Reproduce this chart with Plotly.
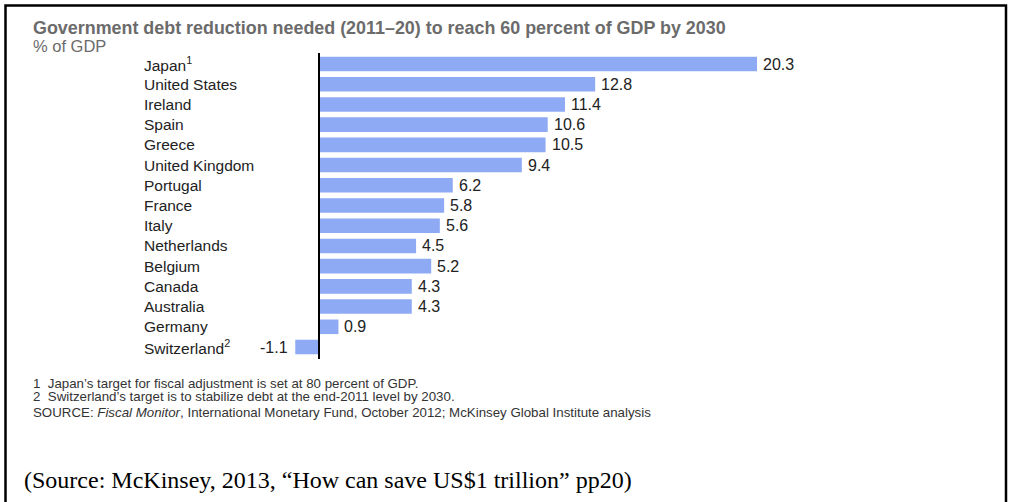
import plotly.graph_objects as go

countries = ["Japan<sup>1</sup>", "United States", "Ireland", "Spain", "Greece",
             "United Kingdom", "Portugal", "France", "Italy", "Netherlands",
             "Belgium", "Canada", "Australia", "Germany", "Switzerland<sup>2</sup>"]
values = [20.3, 12.8, 11.4, 10.6, 10.5, 9.4, 6.2, 5.8, 5.6, 4.5, 5.2, 4.3, 4.3, 0.9, -1.1]
value_labels = ["20.3", "12.8", "11.4", "10.6", "10.5", "9.4", "6.2", "5.8", "5.6",
                "4.5", "5.2", "4.3", "4.3", "0.9", "-1.1"]

title_text = "Government debt reduction needed (2011–20) to reach 60 percent of GDP by 2030"
unit_text = "% of GDP"
notes = ["1  Japan’s target for fiscal adjustment is set at 80 percent of GDP.",
         "2  Switzerland’s target is to stabilize debt at the end-2011 level by 2030."]
source_text = "SOURCE: <i>Fiscal Monitor</i>, International Monetary Fund, October 2012; McKinsey Global Institute analysis"
caption = "(Source: McKinsey, 2013, “How can save US$1 trillion” pp20)"

W, H = 1009, 502
idx = list(range(len(countries)))
FONT = "Arial, Liberation Sans, sans-serif"

fig = go.Figure()
fig.add_trace(go.Bar(
    x=values, y=idx, orientation="h",
    marker=dict(color="#8eaaf4", line=dict(width=0)),
    width=0.72, hoverinfo="skip",
))

# scale: 0 -> 319px, 20.3 -> 757px
ppu = (757 - 319) / 20.3
xmin = -319 / ppu
xmax = (W - 319) / ppu
row = (347 - 64) / 14
ytop = -64 / row
ybot = (H - 64) / row

fig.update_xaxes(range=[xmin, xmax], visible=False, fixedrange=True)
fig.update_yaxes(range=[ybot, ytop], visible=False, fixedrange=True)

ann = []
for i, (c, v, t) in enumerate(zip(countries, values, value_labels)):
    ann.append(dict(x=142 / W, xref="paper", y=i, yref="y", text=c, showarrow=False,
                    xanchor="left", yanchor="middle",
                    font=dict(family=FONT, size=15.5, color="#222")))
    ann.append(dict(x=v, xref="x", y=i, yref="y", text=t, showarrow=False,
                    xanchor="left" if v >= 0 else "right", yanchor="middle",
                    xshift=4 if v >= 0 else -5,
                    font=dict(family=FONT, size=16, color="#222")))

def py(p):
    return 1 - p / H

ann += [
    dict(x=31 / W, y=py(28), xref="paper", yref="paper", text="<b>" + title_text + "</b>",
         showarrow=False, xanchor="left", yanchor="middle",
         font=dict(family=FONT, size=17.9, color="#6b6b6b")),
    dict(x=31 / W, y=py(46), xref="paper", yref="paper", text=unit_text,
         showarrow=False, xanchor="left", yanchor="middle",
         font=dict(family=FONT, size=16.5, color="#6b6b6b")),
    dict(x=31 / W, y=py(383), xref="paper", yref="paper", text=notes[0],
         showarrow=False, xanchor="left", yanchor="middle",
         font=dict(family=FONT, size=13.3, color="#333")),
    dict(x=31 / W, y=py(396), xref="paper", yref="paper", text=notes[1],
         showarrow=False, xanchor="left", yanchor="middle",
         font=dict(family=FONT, size=13.3, color="#333")),
    dict(x=31 / W, y=py(412), xref="paper", yref="paper", text=source_text,
         showarrow=False, xanchor="left", yanchor="middle",
         font=dict(family=FONT, size=13.3, color="#333")),
    dict(x=22 / W, y=py(480), xref="paper", yref="paper", text=caption,
         showarrow=False, xanchor="left", yanchor="middle",
         font=dict(family="Liberation Serif, Times New Roman, serif", size=24, color="#000")),
]

shapes = [
    dict(type="line", xref="x", yref="paper", x0=0, x1=0, y0=py(53), y1=py(359),
         line=dict(color="#000", width=2)),
    dict(type="rect", xref="paper", yref="paper", x0=5.5 / W, x1=1006 / W, y0=py(510), y1=py(5.5),
         line=dict(color="#000", width=2.5), fillcolor="rgba(0,0,0,0)"),
]

fig.update_layout(
    width=W, height=H, margin=dict(l=0, r=0, t=0, b=0),
    paper_bgcolor="white", plot_bgcolor="white",
    showlegend=False, annotations=ann, shapes=shapes,
)

fig.write_html("out.html", config={"displayModeBar": False},
               post_script="document.body.style.margin='0';document.body.style.overflow='hidden';")
